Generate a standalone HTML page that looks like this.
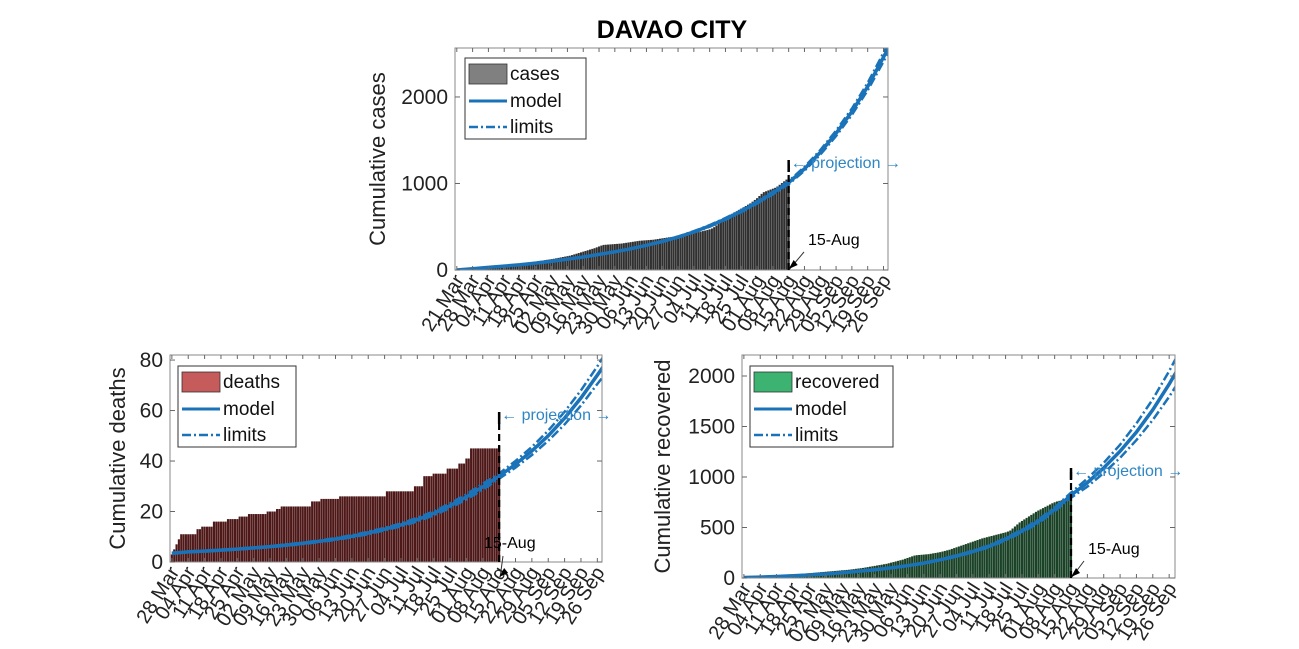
<!DOCTYPE html>
<html><head><meta charset="utf-8"><style>
body{margin:0;background:#fff;}
svg{display:block;font-family:"Liberation Sans",sans-serif;}
</style></head><body>
<svg id="chart" width="1299" height="649" viewBox="0 0 1299 649">
<text x="672" y="38" text-anchor="middle" font-size="25" font-weight="bold" fill="#000">DAVAO CITY</text>
</svg>
<script>
// ---------- DATA ----------
const casesTicks = ["21 Mar","28 Mar","04 Apr","11 Apr","18 Apr","25 Apr","02 May","09 May","16 May","23 May","30 May","06 Jun","13 Jun","20 Jun","27 Jun","04 Jul","11 Jul","18 Jul","25 Jul","01 Aug","08 Aug","15 Aug","22 Aug","29 Aug","05 Sep","12 Sep","19 Sep","26 Sep"];
const otherTicks = ["28 Mar","04 Apr","11 Apr","18 Apr","25 Apr","02 May","09 May","16 May","23 May","30 May","06 Jun","13 Jun","20 Jun","27 Jun","04 Jul","11 Jul","18 Jul","25 Jul","01 Aug","08 Aug","15 Aug","22 Aug","29 Aug","05 Sep","12 Sep","19 Sep","26 Sep"];
const casesBars = [1,2,4,6,10,14,18, 22,26,30,34,38,40,42, 44,46,48,50,52,54,56, 58,60,62,64,66,68,70, 72,75,78,82,86,90,94, 98,102,106,110,114,118,122, 126,130,135,140,145,150,155, 160,165,172,180,188,196,204, 212,220,228,236,244,252,262, 272,282,290,292,294,296,298, 300,302,304,306,310,314,318, 322,326,330,334,338,340,342, 344,346,348,350,354,358,362, 366,370,374,378,382,386,390, 394,398,402,406,410,414,420, 426,432,438,444,450,456,462, 470,480,495,515,535,555,575, 595,615,635,650,665,680,695, 710,725,740,755,770,790,810, 830,855,880,900,910,920,930, 940,950,965,985,1005,1025,1045, 1060];
const casesModelDays = [0,7,14,21,28,35,42,49,56,63,70,77,84,91,98,105,112,119,126,133,140,147,154,161,168,175,182,189,191];
const casesModel = [0,15,30,45,60,80,100,125,150,180,210,245,285,330,380,440,510,590,680,780,890,1010,1170,1360,1580,1830,2120,2460,2560];
const casesUpper = [0,15,31,46,61,81,102,127,153,183,214,249,290,336,387,448,519,601,692,794,906,1028,1192,1386,1611,1866,2163,2510,2612];
const casesLower = [0,15,29,44,59,79,98,123,147,177,206,241,280,324,373,432,501,579,668,766,874,992,1148,1334,1549,1794,2077,2410,2508];

const deathRuns = [[3,1],[5,1],[7,1],[9,1],[11,7],[13,2],[14,5],[16,6],[17,5],[18,4],[19,8],[20,4],[21,2],[22,13],[24,4],[25,8],[26,20],[28,12],[30,4],[34,4],[35,6],[37,5],[39,3],[41,2],[45,12],[46,1]];
const deathModelDays = [0,7,14,21,28,35,42,49,56,63,70,77,84,91,98,105,112,119,126,133,140,147,154,161,168,175,182,185];
const deathModel = [3.5,4,4.3,4.7,5.1,5.6,6.1,6.7,7.4,8.2,9.1,10.2,11.5,13,14.7,16.8,19.3,22.3,25.8,29.8,34,38.7,44,50,57,65,74,78];
const deathUpper = [3.7,4.2,4.5,4.9,5.3,5.8,6.3,7,7.7,8.5,9.5,10.6,12,13.5,15.3,17.5,20.1,23.2,26.8,31,35,40,45.6,52,59.5,68,77.5,82];
const deathLower = [3.3,3.8,4.1,4.5,4.9,5.4,5.9,6.4,7.1,7.9,8.7,9.8,11,12.5,14.1,16.1,18.5,21.4,24.8,28.6,33,37.4,42.4,48,54.5,62,70.5,74];

const recBars = [2,3,4,5,6,8,10, 12,14,16,18,20,22,24, 26,28,30,32,33,34,35, 36,37,38,40,42,44,46, 48,50,52,54,56,58,60, 62,64,66,68,70,72,74, 76,78,80,82,85,88,91, 94,97,100,104,108,112,116, 120,124,128,132,136,140,146, 152,158,164,170,176,182,190, 198,206,214,222,226,228,230, 232,234,236,240,244,248,252, 256,262,268,274,280,288,296, 304,312,320,328,336,344,352, 360,368,376,384,392,398,404, 410,416,422,428,434,440,446, 452,460,470,490,510,530,550, 565,580,595,610,625,640,655, 668,680,692,704,716,728,740, 750,758,764,770,776,782,786, 790];
const recModelDays = [0,7,14,21,28,35,42,49,56,63,70,77,84,91,98,105,112,119,126,133,140,147,154,161,168,175,182,185];
const recModel = [5,9,15,22,30,40,52,66,82,100,122,148,180,218,262,314,385,465,560,680,820,945,1090,1255,1445,1665,1920,2040];
const recUpper = [5,9,16,23,31,41,54,68,85,103,126,152,185,225,270,324,397,479,577,700,845,985,1140,1320,1530,1770,2050,2180];
const recLower = [5,9,14,21,29,39,50,64,79,97,118,144,175,211,254,304,373,451,543,660,795,905,1040,1190,1365,1565,1795,1905];

// ---------- DRAW ----------
const NS = "http://www.w3.org/2000/svg";
const svg = document.getElementById("chart");
function mk(tag, attrs, parent){ const e=document.createElementNS(NS,tag); for(const k in attrs) e.setAttribute(k,attrs[k]); (parent||svg).appendChild(e); return e; }
function expandRuns(r){ const out=[]; r.forEach(p=>{for(let i=0;i<p[1];i++) out.push(p[0]);}); return out; }
const deathBars = expandRuns(deathRuns);

function panel(c){
  const g = mk("g",{});
  
  
  const X = d => c.x0 + (d - c.dmin)/(c.dmax - c.dmin)*(c.x1 - c.x0);
  const Y = v => c.y1 - v/c.ymax*(c.y1 - c.y0);
  const bw = (X(1)-X(0))*0.9;
  const bg = mk("g",{},g);
  
  
  c.bars.forEach((v,i)=>{
    const r = mk("rect",{x:X(i)-bw/2,y:Y(v),width:bw,height:Math.max(0,c.y1-Y(v)),fill:c.barColor},bg);
    
    
  });
  const pathOf = (days, vals) => days.map((d,i)=>(i?"L":"M")+X(d).toFixed(1)+","+Y(vals[i]).toFixed(1)).join(" ");
  const clip = "clip-"+c.key;
  const cp = mk("clipPath",{id:clip},g); mk("rect",{x:c.x0,y:c.y0,width:c.x1-c.x0,height:c.y1-c.y0},cp);
  [[c.upper,"9,3,2,3"],[c.lower,"9,3,2,3"]].forEach(([vals,dash],k)=>{
    const p = mk("path",{d:pathOf(c.days,vals),fill:"none",stroke:"#1a72b8","stroke-width":2.5,"stroke-dasharray":dash,"clip-path":"url(#"+clip+")"},g);
    
    
  });
  const m = mk("path",{d:pathOf(c.days,c.model),fill:"none",stroke:"#1a72b8","stroke-width":3.5,"clip-path":"url(#"+clip+")"},g);
  
  
  const box = mk("rect",{x:c.x0,y:c.y0,width:c.x1-c.x0,height:c.y1-c.y0,fill:"none",stroke:"#8a8a8a","stroke-width":1},g);
  
  
  c.yticks.forEach(v=>{
    mk("line",{x1:c.x0,x2:c.x0+5,y1:Y(v),y2:Y(v),stroke:"#666"},g);
    mk("line",{x1:c.x1,x2:c.x1-5,y1:Y(v),y2:Y(v),stroke:"#666"},g);
    const t = mk("text",{x:c.x0-7,y:Y(v)+7,"text-anchor":"end","font-size":21,fill:"#222"},g);
    t.textContent = v;
    
    
  });
  c.xticks.forEach((lab,i)=>{
    const d = c.tick0 + 7*i, x = X(d);
    mk("line",{x1:x,x2:x,y1:c.y1,y2:c.y1-4,stroke:"#666"},g);
    mk("line",{x1:x,x2:x,y1:c.y0,y2:c.y0+4,stroke:"#666"},g);
    const t = mk("text",{x:x+8,y:c.y1+10,"text-anchor":"end","font-size":20,fill:"#222",transform:`rotate(-58 ${x+8} ${c.y1+10})`},g);
    t.textContent = lab;
    
    
  });
  const yt = mk("text",{x:c.titleX,y:(c.y0+c.y1)/2,"text-anchor":"middle","font-size":22,fill:"#222",transform:`rotate(-90 ${c.titleX} ${(c.y0+c.y1)/2})`},g);
  yt.textContent = c.ytitle;
  
  
  const xa = X(c.augDay);
  mk("line",{x1:xa,x2:xa,y1:c.y1,y2:c.markTop,stroke:"#000","stroke-width":2.2,"stroke-dasharray":"7,4"},g);
  mk("line",{x1:xa,x2:xa,y1:c.markTop,y2:c.markTop+12,stroke:"#000","stroke-width":2.5},g);
  const pj = mk("text",{x:xa+2,y:c.markTop+8,"font-size":16,fill:"#2f86c4"},g);
  pj.textContent = "\u2190 projection \u2192";
  
  
  const at = mk("text",{x:c.augLabel[0],y:c.augLabel[1],"font-size":16,fill:"#000"},g);
  at.textContent = "15-Aug";
  
  
  const ay = c.arrowEnd;
  mk("line",{x1:c.arrowStart[0],y1:c.arrowStart[1],x2:xa+1,y2:ay,stroke:"#333","stroke-width":1},g);
  mk("path",{d:`M${xa},${ay} l9,-4 l-4,-5 z`,fill:"#000"},g);
  const L = c.legend;
  const lg = mk("g",{},g);
  
  
  mk("rect",{x:L[0],y:L[1],width:L[2],height:81,fill:"#fff",stroke:"#333","stroke-width":1},lg);
  mk("rect",{x:L[0]+4,y:L[1]+6,width:38,height:20,fill:c.swatch,stroke:"#333","stroke-width":0.8},lg);
  mk("line",{x1:L[0]+4,x2:L[0]+42,y1:L[1]+43,y2:L[1]+43,stroke:"#1a72b8","stroke-width":3},lg);
  mk("line",{x1:L[0]+4,x2:L[0]+42,y1:L[1]+69,y2:L[1]+69,stroke:"#1a72b8","stroke-width":2.5,"stroke-dasharray":"9,3,2,3"},lg);
  [[c.key,22],["model",49],["limits",75]].forEach(([s,dy])=>{
    const t = mk("text",{x:L[0]+45,y:L[1]+dy,"font-size":19,fill:"#111"},lg);
    t.textContent = s;
    
    
  });
}

panel({name:"cases-panel",key:"cases",x0:455,x1:888,y0:48,y1:270,dmin:-0.8,dmax:191,ymax:2566,
  bars:casesBars,barColor:"#303030",swatch:"#808080",days:casesModelDays,model:casesModel,upper:casesUpper,lower:casesLower,
  yticks:[0,1000,2000],xticks:casesTicks,tick0:0,ytitle:"Cumulative cases",titleX:385,
  augDay:147,markTop:160,augLabel:[808,245],arrowStart:[804,252],arrowEnd:269,legend:[465,58,121]});
panel({name:"deaths-panel",key:"deaths",x0:170,x1:602,y0:355,y1:562,dmin:-0.8,dmax:184,ymax:82,
  bars:deathBars,barColor:"#4e1818",swatch:"#c65b5b",days:deathModelDays,model:deathModel,upper:deathUpper,lower:deathLower,
  yticks:[0,20,40,60,80],xticks:otherTicks,tick0:0,ytitle:"Cumulative deaths",titleX:125,
  augDay:140,markTop:412,augLabel:[484,548],arrowStart:[503,556],arrowEnd:577,legend:[178,366,118]});
panel({name:"recovered-panel",key:"recovered",x0:742,x1:1175,y0:355,y1:578,dmin:-0.8,dmax:184.5,ymax:2208,
  bars:recBars,barColor:"#1a4226",swatch:"#3cb371",days:recModelDays,model:recModel,upper:recUpper,lower:recLower,
  yticks:[0,500,1000,1500,2000],xticks:otherTicks,tick0:0,ytitle:"Cumulative recovered",titleX:670,
  augDay:140,markTop:468,augLabel:[1088,554],arrowStart:[1084,561],arrowEnd:577,legend:[750,366,143]});
</script>
</body></html>
